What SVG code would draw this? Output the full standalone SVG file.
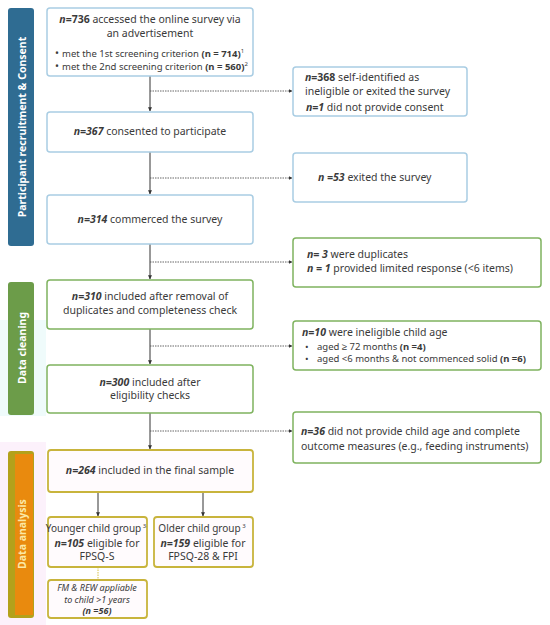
<svg xmlns="http://www.w3.org/2000/svg" width="550" height="625" viewBox="0 0 550 625">
<defs>
<marker id="ah" viewBox="0 0 6 6" refX="5.5" refY="3" markerWidth="4" markerHeight="4" orient="auto"><path d="M0,0 L6,3 L0,6 z" fill="#333"/></marker>
</defs>
<style>
text{font-family:"Noto Sans","Liberation Sans",sans-serif;font-size:10.5px;fill:#3a3a3a}
.c{text-anchor:middle}
.b{font-weight:bold}
.i{font-style:italic}
.bi{font-weight:bold;font-style:italic}
.sm{font-size:9.5px}
.xs{font-size:9px}
.grp{font-size:10px}
.sup{font-size:6px}
.side{font-family:"Noto Sans","Liberation Sans",sans-serif;font-size:10.5px;font-weight:bold;fill:#fff;text-anchor:middle}
.blue{fill:#fff;stroke:#a9cde3;stroke-width:1.5}
.green{fill:#fff;stroke:#7fb35f;stroke-width:1.5}
.yel{fill:#fffbfd;stroke:#c8b43c;stroke-width:1.8}
.solid{stroke:#333;stroke-width:1;fill:none}
.dash{stroke:#555;stroke-width:0.9;stroke-dasharray:1.5 1;fill:none}
</style>
<rect x="0" y="0" width="550" height="625" fill="#fff"/>
<rect x="0" y="320" width="46" height="96" fill="#effbfb"/>
<rect x="0" y="442" width="46" height="183" fill="#fcf1fb"/>

<g id="side-recruit">
<rect x="8" y="8" width="26" height="238" rx="3" fill="#2f6c92"/>
<text class="side" transform="translate(25.5,127) rotate(-90)">Participant recruitment &amp; Consent</text>
</g>
<g id="side-cleaning">
<rect x="8" y="282" width="26" height="133" rx="3" fill="#6c9c49"/>
<text class="side" transform="translate(25.5,348) rotate(-90)">Data cleaning</text>
</g>
<g id="side-analysis">
<rect x="8" y="451" width="26" height="167" rx="3" fill="#b3a11b"/>
<rect x="15" y="454" width="18" height="161" fill="#e98a0e"/>
<text class="side" style="fill:#fbe9a6" transform="translate(25.5,534) rotate(-90)">Data analysis</text>
</g>

<g id="connectors">
<line class="solid" x1="150" y1="76" x2="150" y2="111" marker-end="url(#ah)"/>
<line class="dash" x1="150" y1="91" x2="292" y2="91" marker-end="url(#ah)"/>
<line class="solid" x1="150" y1="152" x2="150" y2="194" marker-end="url(#ah)"/>
<line class="dash" x1="150" y1="178" x2="292" y2="178" marker-end="url(#ah)"/>
<line class="solid" x1="150" y1="244" x2="150" y2="279" marker-end="url(#ah)"/>
<line class="dash" x1="150" y1="262" x2="292" y2="262" marker-end="url(#ah)"/>
<line class="solid" x1="150" y1="329" x2="150" y2="364" marker-end="url(#ah)"/>
<line class="dash" x1="150" y1="346" x2="292" y2="346" marker-end="url(#ah)"/>
<line class="solid" x1="150" y1="413" x2="150" y2="449" marker-end="url(#ah)"/>
<line class="dash" x1="150" y1="431" x2="292" y2="431" marker-end="url(#ah)"/>
<line class="solid" x1="98" y1="492" x2="98" y2="516" marker-end="url(#ah)"/>
<line class="solid" x1="203" y1="492" x2="203" y2="516" marker-end="url(#ah)"/>
<line x1="98" y1="567" x2="98" y2="580" stroke="#d6c24a" stroke-width="1" stroke-dasharray="1.5 1"/>
</g>

<g id="n736">
<rect class="blue" x="47" y="8" width="206" height="68" rx="3"/>
<text class="c" x="150" y="23"><tspan class="bi">n</tspan><tspan class="b">=736</tspan> accessed the online survey via</text>
<text class="c" x="150" y="37">an advertisement</text>
<text x="55" y="57">•</text>
<text x="62" y="57" class="sm">met the 1st screening criterion <tspan class="b">(n = 714)</tspan><tspan class="sup" dy="-4">1</tspan></text>
<text x="55" y="70">•</text>
<text x="62" y="70" class="sm">met the 2nd screening criterion <tspan class="b">(n = 560)</tspan><tspan class="sup" dy="-4">2</tspan></text>
</g>

<g id="n368">
<rect class="blue" x="293" y="67" width="174" height="49" rx="3"/>
<text x="305" y="81"><tspan class="bi">n</tspan><tspan class="b">=368</tspan> self-identified as</text>
<text x="305" y="95">ineligible or exited the survey</text>
<text x="306" y="111"><tspan class="bi">n=1</tspan>  did not provide consent</text>
</g>

<g id="n367">
<rect class="blue" x="47" y="112" width="206" height="40" rx="3"/>
<text class="c" x="150" y="135"><tspan class="bi">n=367</tspan> consented to participate</text>
</g>

<g id="n53">
<rect class="blue" x="293" y="153" width="174" height="49" rx="3"/>
<text x="318" y="181"><tspan class="bi">n =53</tspan> exited the survey</text>
</g>

<g id="n314">
<rect class="blue" x="47" y="195" width="206" height="49" rx="3"/>
<text class="c" x="150" y="223"><tspan class="bi">n=314</tspan> commerced the survey</text>
</g>

<g id="n3">
<rect class="green" x="293" y="238" width="248" height="49" rx="3"/>
<text x="307" y="258"><tspan class="bi">n= 3</tspan> were duplicates</text>
<text x="307" y="272"><tspan class="bi">n = 1</tspan> provided limited response (&lt;6 items)</text>
</g>

<g id="n310">
<rect class="green" x="47" y="280" width="206" height="49" rx="3"/>
<text class="c" x="150" y="300"><tspan class="bi">n=310</tspan>  included after removal of</text>
<text class="c" x="150" y="314">duplicates and completeness check</text>
</g>

<g id="n10">
<rect class="green" x="293" y="321" width="248" height="49" rx="3"/>
<text x="302" y="336"><tspan class="bi">n=10</tspan> were ineligible child age</text>
<text x="305" y="350" class="sm">•</text>
<text x="317" y="350" class="sm">aged ≥ 72 months <tspan class="b">(n =4)</tspan></text>
<text x="305" y="362" class="sm">•</text>
<text x="317" y="362" class="sm">aged &lt;6 months &amp; not commenced solid <tspan class="b">(n =6)</tspan></text>
</g>

<g id="n300">
<rect class="green" x="47" y="365" width="206" height="48" rx="3"/>
<text class="c" x="150" y="386"><tspan class="bi">n=300</tspan>  included after</text>
<text class="c" x="150" y="399">eligibility checks</text>
</g>

<g id="n36">
<rect class="green" x="293" y="412" width="248" height="51" rx="3"/>
<text x="301" y="435"><tspan class="bi">n=36</tspan>  did not provide child age and complete</text>
<text x="301" y="450">outcome measures (e.g., feeding instruments)</text>
</g>

<g id="n264">
<rect class="yel" x="48" y="450" width="205" height="42" rx="3"/>
<text class="c" x="150" y="474"><tspan class="bi">n=264</tspan>  included in the final sample</text>
</g>

<g id="younger">
<rect class="yel" x="48" y="517" width="99" height="50" rx="3"/>
<text class="c grp" x="96" y="532">Younger child group<tspan class="sup" dy="-4"> 3</tspan></text>
<text class="c" x="97" y="547"><tspan class="bi">n=105</tspan> eligible for</text>
<text class="c" x="97" y="560">FPSQ-S</text>
</g>

<g id="older">
<rect class="yel" x="154" y="517" width="99" height="50" rx="3"/>
<text class="c grp" x="202" y="532">Older child group<tspan class="sup" dy="-4"> 3</tspan></text>
<text class="c" x="203" y="547"><tspan class="bi">n=159</tspan> eligible for</text>
<text class="c" x="203" y="560">FPSQ-28 &amp; FPI</text>
</g>

<g id="fm">
<rect class="yel" x="48" y="580" width="99" height="38" rx="3"/>
<text class="c i xs" x="97" y="591">FM &amp; REW appliable</text>
<text class="c i xs" x="97" y="602.5">to child &gt;1 years</text>
<text class="c bi xs" x="97" y="614">(n =56)</text>
</g>
</svg>
